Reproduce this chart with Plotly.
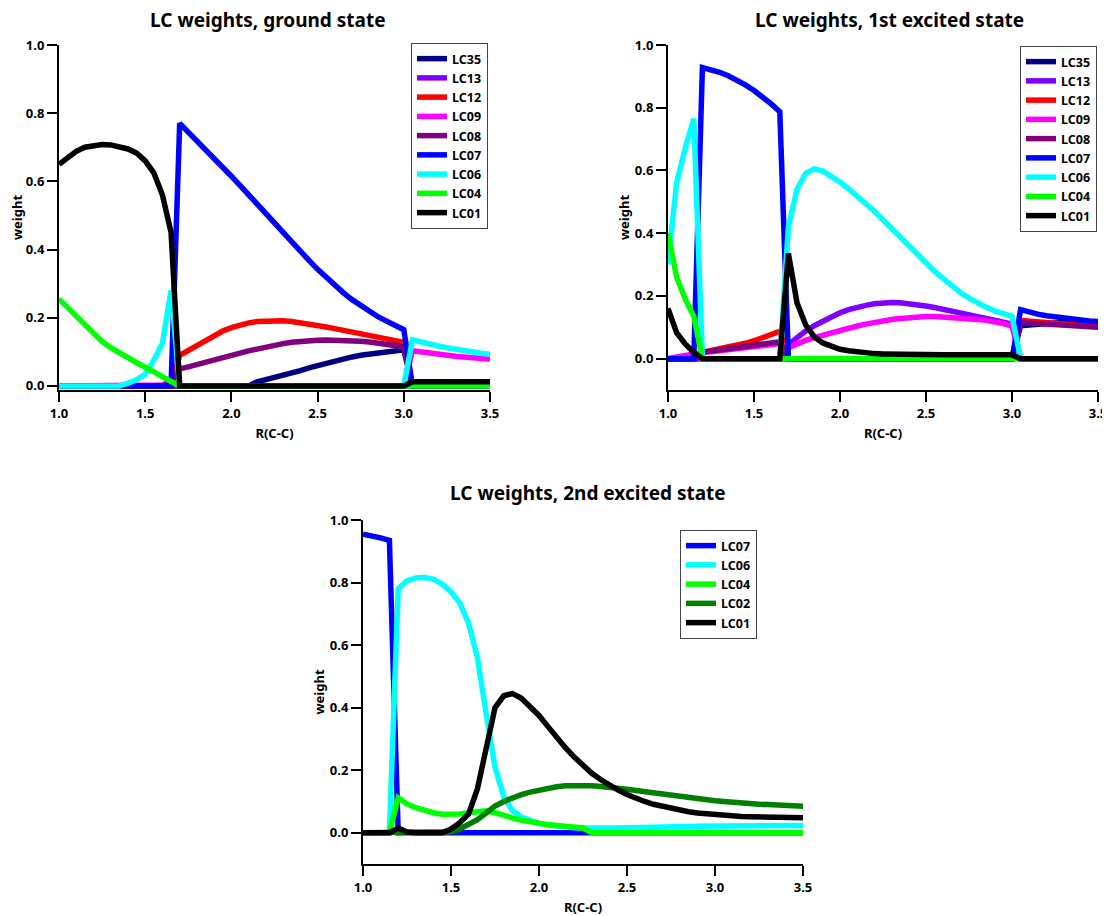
import plotly.graph_objects as go

# ---------------- data ----------------
R = [1.00, 1.05, 1.10, 1.15, 1.20, 1.25, 1.30, 1.35, 1.40, 1.45,
     1.50, 1.55, 1.60, 1.65, 1.70, 1.75, 1.80, 1.85, 1.90, 1.95,
     2.00, 2.05, 2.10, 2.15, 2.20, 2.25, 2.30, 2.35, 2.40, 2.45,
     2.50, 2.55, 2.60, 2.65, 2.70, 2.75, 2.80, 2.85, 2.90, 2.95,
     3.00, 3.05, 3.10, 3.15, 3.20, 3.25, 3.30, 3.35, 3.40, 3.45, 3.50]

Z10 = [0.0] * 10

# ground state
g_LC35 = [0.0] * 23 + [0.012, 0.018, 0.024, 0.031, 0.038, 0.045, 0.053, 0.060, 0.067, 0.073,
                       0.079, 0.085, 0.090, 0.094, 0.098, 0.101, 0.104, 0.106] + Z10
g_LC13 = [0.0] * 51
g_LC12 = [0.0] * 14 + [0.090, 0.105, 0.120, 0.135, 0.149, 0.161, 0.171, 0.179, 0.185, 0.189,
                       0.191, 0.192, 0.191, 0.189, 0.186, 0.182, 0.178, 0.173, 0.168, 0.163,
                       0.158, 0.153, 0.148, 0.143, 0.138, 0.133, 0.128] + Z10
g_LC09 = [0.0] * 12 + [0.003, 0.012] + [0.0] * 27 + [0.103, 0.099, 0.096, 0.093, 0.090, 0.087,
                                                    0.085, 0.082, 0.080, 0.078]
g_LC08 = [0.0] * 13 + [0.010, 0.050, 0.056, 0.062, 0.068, 0.075, 0.082, 0.089, 0.096, 0.103,
                       0.109, 0.115, 0.120, 0.124, 0.128, 0.131, 0.133, 0.134, 0.135, 0.135,
                       0.134, 0.133, 0.131, 0.129, 0.126, 0.123, 0.119, 0.115] + Z10
g_LC07 = [0.0] * 14 + [0.770, 0.745, 0.720, 0.695, 0.668, 0.642, 0.615, 0.588, 0.560, 0.532,
                       0.505, 0.477, 0.450, 0.422, 0.395, 0.368, 0.342, 0.318, 0.295, 0.273,
                       0.253, 0.235, 0.218, 0.203, 0.190, 0.177, 0.165] + Z10
g_LC06 = [0.0] * 8 + [0.008, 0.018, 0.035, 0.075, 0.125, 0.280] + [0.0] * 27 + \
         [0.135, 0.128, 0.122, 0.117, 0.112, 0.107, 0.103, 0.099, 0.096, 0.093]
g_LC04 = [0.255, 0.230, 0.200, 0.175, 0.152, 0.130, 0.112, 0.096, 0.082, 0.068,
          0.055, 0.040, 0.027, 0.013] + [0.0] * 37
g_LC01 = [0.650, 0.670, 0.688, 0.700, 0.706, 0.708, 0.707, 0.703, 0.695, 0.683,
          0.660, 0.625, 0.560, 0.450] + [0.0] * 27 + [0.012] * 10

# 1st excited state
e1_LC35 = [0.0] * 41 + [0.105, 0.108, 0.110, 0.112, 0.114, 0.115, 0.116, 0.117, 0.118, 0.118]
e1_LC13 = [0.0] * 14 + [0.045, 0.068, 0.088, 0.105, 0.120, 0.134, 0.146, 0.156, 0.164, 0.170,
                        0.175, 0.178, 0.179, 0.178, 0.176, 0.172, 0.168, 0.163, 0.158, 0.152,
                        0.146, 0.140, 0.134, 0.128, 0.122, 0.116, 0.110] + Z10
e1_LC12 = [0.0] * 4 + [0.020, 0.025, 0.030, 0.036, 0.042, 0.049, 0.057, 0.066, 0.076, 0.087] + \
          [0.0] * 27 + [0.122, 0.120, 0.118, 0.115, 0.113, 0.110, 0.108, 0.106, 0.104, 0.102]
e1_LC09 = [0.0, 0.005, 0.011, 0.017, 0.020, 0.022, 0.025, 0.028, 0.031, 0.034, 0.037, 0.040,
           0.044, 0.048, 0.035, 0.048, 0.058, 0.067, 0.075, 0.083, 0.090, 0.097, 0.104, 0.110,
           0.116, 0.121, 0.125, 0.128, 0.131, 0.133, 0.134, 0.134, 0.133, 0.132, 0.130, 0.128,
           0.125, 0.122, 0.118, 0.112, 0.104] + Z10
e1_LC08 = [0.0] * 4 + [0.020, 0.024, 0.028, 0.032, 0.035, 0.039, 0.042, 0.046, 0.050, 0.054] + \
          [0.0] * 27 + [0.115, 0.113, 0.111, 0.109, 0.107, 0.106, 0.104, 0.102, 0.101, 0.100]
e1_LC07 = [0.0] * 4 + [0.928, 0.922, 0.913, 0.902, 0.889, 0.873, 0.855, 0.835, 0.812, 0.787] + \
          [0.0] * 27 + [0.156, 0.148, 0.142, 0.137, 0.133, 0.129, 0.126, 0.123, 0.120, 0.118]
e1_LC06 = [0.300, 0.560, 0.670, 0.765] + [0.0] * 10 + \
          [0.420, 0.540, 0.590, 0.605, 0.598, 0.583, 0.563, 0.541, 0.518, 0.494,
           0.470, 0.443, 0.415, 0.388, 0.360, 0.332, 0.305, 0.279, 0.255, 0.232,
           0.211, 0.193, 0.177, 0.164, 0.152, 0.143, 0.135] + Z10
e1_LC04 = [0.400, 0.260, 0.190, 0.135] + [0.0] * 47
e1_LC01 = [0.160, 0.083, 0.047, 0.020] + [0.0] * 10 + \
          [0.335, 0.178, 0.108, 0.070, 0.050, 0.038, 0.030, 0.025, 0.021, 0.018,
           0.016, 0.015, 0.014, 0.013] + [0.012] * 13 + Z10

# 2nd excited state
e2_LC07 = [0.955, 0.950, 0.943, 0.935] + [0.0] * 47
e2_LC06 = [0.0] * 4 + [0.780, 0.805, 0.815, 0.817, 0.810, 0.795, 0.770, 0.735, 0.670, 0.560,
                       0.380, 0.210, 0.115, 0.070, 0.050, 0.038, 0.030, 0.025, 0.021, 0.018,
                       0.016, 0.015, 0.014, 0.014, 0.015, 0.015, 0.016, 0.016, 0.017, 0.018,
                       0.018, 0.019, 0.020, 0.020, 0.021, 0.021, 0.022, 0.022, 0.022, 0.023,
                       0.023, 0.023, 0.023, 0.023, 0.023, 0.023, 0.023]
e2_LC04 = [0.0] * 4 + [0.112, 0.092, 0.080, 0.071, 0.064, 0.059, 0.058, 0.060, 0.064, 0.068,
                       0.070, 0.064, 0.054, 0.047, 0.040, 0.034, 0.030, 0.026, 0.023, 0.021,
                       0.019, 0.015] + [0.0] * 25
e2_LC02 = [0.0] * 10 + [0.003, 0.012, 0.025, 0.042, 0.063, 0.085, 0.100, 0.112, 0.122, 0.130,
                        0.137, 0.143, 0.147, 0.150, 0.151, 0.151, 0.150, 0.148, 0.146, 0.143,
                        0.139, 0.135, 0.131, 0.127, 0.123, 0.119, 0.115, 0.111, 0.108, 0.105,
                        0.102, 0.100, 0.097, 0.095, 0.093, 0.091, 0.090, 0.088, 0.087, 0.086,
                        0.085]
e2_LC01 = [0.0, 0.0, 0.0, 0.0, 0.015, 0.002, 0.0, 0.0, 0.0, 0.0,
           0.012, 0.032, 0.060, 0.140, 0.270, 0.400, 0.438, 0.445, 0.430, 0.405,
           0.375, 0.340, 0.305, 0.272, 0.242, 0.213, 0.190, 0.170, 0.152, 0.136,
           0.122, 0.110, 0.100, 0.091, 0.084, 0.078, 0.072, 0.067, 0.063, 0.060,
           0.057, 0.055, 0.053, 0.052, 0.051, 0.050, 0.050, 0.049, 0.049, 0.048, 0.048]

COLORS = {"LC35": "#000080", "LC13": "#8000ff", "LC12": "#ff0000", "LC09": "#ff00ff",
          "LC08": "#800080", "LC07": "#0000ff", "LC06": "#00ffff", "LC04": "#00ff00",
          "LC02": "#008000", "LC01": "#000000"}

panels = [
    ("x", "y", "legend", [("LC35", g_LC35), ("LC13", g_LC13), ("LC12", g_LC12),
                          ("LC09", g_LC09), ("LC08", g_LC08), ("LC07", g_LC07),
                          ("LC06", g_LC06), ("LC04", g_LC04), ("LC01", g_LC01)]),
    ("x2", "y2", "legend2", [("LC35", e1_LC35), ("LC13", e1_LC13), ("LC12", e1_LC12),
                             ("LC09", e1_LC09), ("LC08", e1_LC08), ("LC07", e1_LC07),
                             ("LC06", e1_LC06), ("LC04", e1_LC04), ("LC01", e1_LC01)]),
    ("x3", "y3", "legend3", [("LC07", e2_LC07), ("LC06", e2_LC06), ("LC04", e2_LC04),
                             ("LC02", e2_LC02), ("LC01", e2_LC01)]),
]

fig = go.Figure()
for xa, ya, lg, series in panels:
    for name, vals in series:
        fig.add_trace(go.Scatter(x=R, y=vals, mode="lines", name=name,
                                 line=dict(color=COLORS[name], width=5.5),
                                 xaxis=xa, yaxis=ya, legend=lg))

W, H = 1110, 916
OFF = 8  # page body margin
FONT = "Noto Sans"

def px(p):
    return (p - OFF) / W

def py(p):
    return 1 - (p - OFF) / H

def xd(a, b):
    return [px(a), px(b)]

def yd(top, bottom):
    return [py(bottom), py(top)]

tickfont = dict(family=FONT, size=13, color="black", weight="bold")
titlefont = dict(family=FONT, size=13, color="black", weight="bold")

def xaxis(dom, anchor):
    return dict(domain=dom, anchor=anchor, range=[1.0, 3.5], tickvals=[1.0, 1.5, 2.0, 2.5, 3.0, 3.5],
                tickformat=".1f", showgrid=False, zeroline=False, showline=True, linecolor="black",
                linewidth=2, ticks="outside", ticklen=10, tickwidth=2, tickcolor="black",
                automargin=False,
                tickfont=tickfont, title=dict(text="R(C-C)", font=titlefont, standoff=8))

def yaxis(dom, anchor, rng):
    return dict(domain=dom, anchor=anchor, range=rng, tickvals=[0.0, 0.2, 0.4, 0.6, 0.8, 1.0],
                tickformat=".1f", showgrid=False, zeroline=False, showline=True, linecolor="black",
                linewidth=2, ticks="outside", ticklen=10, tickwidth=2, tickcolor="black",
                automargin=False,
                tickfont=tickfont, title=dict(text="weight", font=titlefont, standoff=2))

def legend(x, y):
    return dict(x=px(x), y=py(y), xanchor="left", yanchor="top", bgcolor="white",
                bordercolor="#444444", borderwidth=1,
                font=dict(family=FONT, size=12.5, color="black", weight="bold"),
                tracegroupgap=0, itemwidth=30)

fig.update_layout(
    width=W, height=H, margin=dict(l=0, r=0, t=0, b=0, autoexpand=False),
    plot_bgcolor="white", paper_bgcolor="white",
    font=dict(family=FONT, color="black"),
    xaxis=xaxis(xd(59, 490), "y"), yaxis=yaxis(yd(45, 390), "x", [-0.012, 1.0]),
    xaxis2=xaxis(xd(668, 1098), "y2"), yaxis2=yaxis(yd(45, 390), "x2", [-0.1, 1.0]),
    xaxis3=xaxis(xd(363, 803), "y3"), yaxis3=yaxis(yd(520, 864), "x3", [-0.1, 1.0]),
    legend=legend(411, 43), legend2=legend(1020, 46), legend3=legend(680, 530),
)

titles = [("LC weights, ground state", 268, 20),
          ("LC weights, 1st excited state", 889, 20),
          ("LC weights, 2nd excited state", 588, 493)]
for text, cx, cy in titles:
    fig.add_annotation(text=text, x=px(cx), y=py(cy), xref="paper", yref="paper",
                       xanchor="center", yanchor="middle", showarrow=False,
                       font=dict(family=FONT, size=19, color="black", weight="bold"))

fig.write_html("out.html")
